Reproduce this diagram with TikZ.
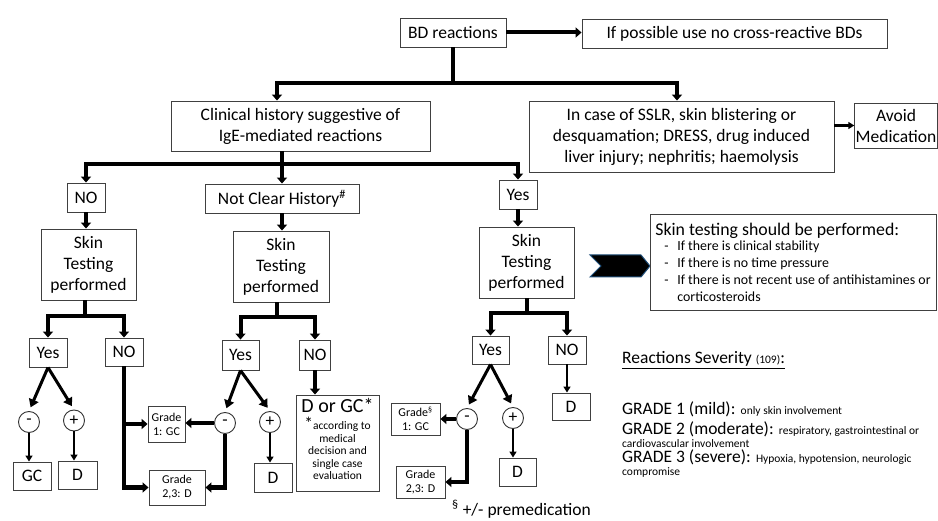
\documentclass[tikz,border=0pt]{standalone}
\usepackage{fontspec}
\setmainfont{Carlito}
\usetikzlibrary{arrows.meta}

\definecolor{chevblue}{RGB}{31,78,121}
\newcommand{\bigtxt}{\fontsize{17.5}{21}\selectfont}
\newcommand{\smtxt}{\fontsize{12}{14}\selectfont}
\newcommand{\tinytxt}{\fontsize{11.5}{13}\selectfont}

\tikzset{
  box/.style={draw=black!75, line width=0.9pt, inner sep=1pt, align=center, font=\bigtxt},
  sz/.style 2 args={minimum width=#1pt, minimum height=#2pt},
  sign/.style={draw=black!80, line width=0.9pt, circle, minimum size=21pt, inner sep=0pt, font=\bigtxt},
  trunk/.style={line width=4pt},
  flow/.style={line width=4pt, -{Triangle[width=10pt,length=6pt]}},
  diag/.style={line width=3pt, -{Triangle[width=10pt,length=8pt]}, shorten >=4pt},
  thin/.style={line width=2pt, -{Triangle[width=7pt,length=6pt]}},
  note/.style={anchor=base west, inner sep=0pt, font=\bigtxt}
}

\begin{document}
\begin{tikzpicture}[x=1pt,y=-1pt]
	\useasboundingbox (0,0) rectangle (938,521);

	\node[box, sz={106}{29}] (bd) at (453,32.5) {BD reactions};
	\node[box, sz={305}{29}] (nocross) at (734.5,33.5) {If possible use no cross-reactive BDs};
	\node[box, sz={259}{50}] (clin) at (300.5,126) {Clinical history suggestive of\\IgE-mediated reactions};
	\node[box, sz={305}{71}] (sslr) at (681.5,136.5) {In case of SSLR, skin blistering or\\desquamation; DRESS, drug induced\\liver injury; nephritis; haemolysis};
	\node[box, sz={82}{45}] (avoid) at (896,125.5) {Avoid\\Medication};

	\node[box, sz={38}{29}] (no1) at (86,197.5) {NO};
	\node[box, sz={154}{29}] (unclear) at (282,198.5) {Not Clear History\textsuperscript{\#}};
	\node[box, sz={38}{29}] (yes1) at (518,194.5) {Yes};
	\node[box, sz={95}{71}] (skin1) at (88.5,264.5) {Skin\\Testing\\performed};
	\node[box, sz={96}{71}] (skin2) at (281,266.5) {Skin\\Testing\\performed};
	\node[box, sz={95}{71}] (skin3) at (526.5,262.5) {Skin\\Testing\\performed};

	\draw[fill=black, draw=chevblue, line width=1pt] (590,255) -- (641,255) -- (650,266) -- (641,277) -- (590,277) -- (601,266) -- cycle;
	\node[box, sz={286}{96}, align=left, font=\fontsize{13.9}{17}\selectfont] (advice) at (793,262) {{\fontsize{17.8}{21}\selectfont Skin testing should be performed:}\\[-2pt]
		\hspace*{9pt}\makebox[13pt][l]{-}If there is clinical stability\\
		\hspace*{9pt}\makebox[13pt][l]{-}If there is no time pressure\\
		\hspace*{9pt}\makebox[13pt][l]{-}If there is not recent use of antihistamines or\\
		\hspace*{22pt}corticosteroids};

	\node[box, sz={38}{29}] (y1) at (48,352.5) {Yes};
	\node[box, sz={38}{28}] (n1) at (124,352) {NO};
	\node[box, sz={37}{30}] (y2) at (240.5,355) {Yes};
	\node[box, sz={31}{30}] (n2) at (315,355) {NO};
	\node[box, sz={37}{28}] (y3) at (490.5,350) {Yes};
	\node[box, sz={38}{28}] (n3) at (567,350) {NO};

	\node[sign] (m1) at (29,422) {-};
	\node[sign] (p1) at (74,420.5) {+};
	\node[sign] (m2) at (225,423) {-};
	\node[sign] (p2) at (270,422) {+};
	\node[sign] (m3) at (467,419) {-};
	\node[sign] (p3) at (513,418) {+};

	\node[box, sz={38}{28}] (gc1) at (32,476) {GC};
	\node[box, sz={39}{28}] (d1) at (77.5,475) {D};
	\node[box, sz={37}{36}, font=\smtxt] (g1a) at (166.5,424) {Grade\\1: GC};
	\node[box, sz={56}{35}, font=\smtxt] (g1b) at (177,487.5) {Grade\\2,3: D};
	\node[box, sz={38}{29}] (d2) at (273,477.5) {D};
	\node[box, sz={83}{96}, label={[anchor=north, yshift=-2pt, inner sep=2pt, align=center, font=\fontsize{11.5}{12.5}\selectfont]north:{{\fontsize{20}{22}\selectfont D or GC*}\\[3pt]{\bigtxt *}according to\\medical\\decision and\\single case\\evaluation}}] (dgc) at (337.5,443) {};
	\node[box, sz={49}{32}, font=\smtxt] (g3a) at (415.5,419) {Grade\textsuperscript{\S}\\1: GC};
	\node[box, sz={49}{32}, font=\smtxt] (g3b) at (420.5,482) {Grade\\2,3: D};
	\node[box, sz={37}{28}] (d3) at (517.5,472) {D};
	\node[box, sz={38}{27}] (d4) at (571,406.5) {D};

	\node[note] (premed) at (452,515) {\textsuperscript{\S} +/- premedication};
	\node[note] (sevhead) at (622,364) {\underline{Reactions Severity {\tinytxt (109)}:}};
	\node[note] (gr1) at (622,415) {GRADE 1 (mild): {\tinytxt only skin involvement}};
	\node[note] (gr2) at (622,435) {GRADE 2 (moderate): {\tinytxt respiratory, gastrointestinal or}};
	\node[note, font=\tinytxt] (gr2b) at (622,447.5) {cardiovascular involvement};
	\node[note] (gr3) at (622,463) {GRADE 3 (severe): {\tinytxt Hypoxia, hypotension, neurologic}};
	\node[note, font=\tinytxt] (gr3b) at (622,475.5) {compromise};

	\draw[flow] (bd.east) -- (bd.east -| nocross.west);
	\draw[trunk] (bd.south) -- ++(0,36) coordinate (j0);
	\draw[flow] (j0) -| ([xshift=-23.5pt]clin.north);
	\draw[flow] (j0) -| ([xshift=-4.5pt]sslr.north);
	\draw[line width=2.5pt, -{Triangle[width=7pt,length=6pt]}] (sslr.east |- avoid.west) -- (avoid.west);

	\draw[trunk] ([xshift=-18.5pt]clin.south) -- ++(0,13) coordinate (j1);
	\draw[flow] (j1) -| (no1.north);
	\draw[flow] (j1) -- (unclear.north);
	\draw[flow] (j1) -| (yes1.north);

	\draw[flow] (no1.south) -- (no1.south |- skin1.north);
	\draw[flow] (unclear.south) -- (unclear.south |- skin2.north);
	\draw[flow] (yes1.south) -- (yes1.south |- skin3.north);

	\draw[trunk] ([xshift=-3.5pt]skin1.south) -- ++(0,16) coordinate (k1);
	\draw[flow] (k1) -| (y1.north);
	\draw[flow] (k1) -| (n1.north);
	\draw[trunk] ([xshift=-4pt]skin2.south) -- ++(0,15) coordinate (k2);
	\draw[flow] (k2) -| (y2.north);
	\draw[flow] (k2) -| (n2.north);
	\draw[trunk] (skin3.south) -- ++(0,15) coordinate (k3);
	\draw[flow] (k3) -| (y3.north);
	\draw[flow] (k3) -| (n3.north);

	\draw[diag] (y1.south) -- (m1.north);
	\draw[diag] (y1.south) -- (p1.north);
	\draw[thin] (m1.south) -- (m1.south |- gc1.north);
	\draw[thin] (p1.south) -- (p1.south |- d1.north);

	\draw[flow] (n1.south) |- (g1b.west);
	\draw[flow] (n1.south |- g1a.west) -- (g1a.west);

	\draw[diag] (y2.south) -- (m2.north);
	\draw[diag] (y2.south) -- (p2.north);
	\draw[flow] (m2.west) -- (m2.west -| g1a.east);
	\draw[flow] (m2.south) |- (g1b.east);
	\draw[thin] (p2.south) -- (p2.south |- d2.north);
	\draw[flow] (n2.south) -- (n2.south |- dgc.north);

	\draw[diag] (y3.south) -- (m3.north);
	\draw[diag] (y3.south) -- (p3.north);
	\draw[flow] (m3.west) -- (m3.west -| g3a.east);
	\draw[flow] (m3.south) |- (g3b.east);
	\draw[thin] (p3.south) -- (p3.south |- d3.north);
	\draw[thin] (n3.south) -- (n3.south |- d4.north);
\end{tikzpicture}
\end{document}
